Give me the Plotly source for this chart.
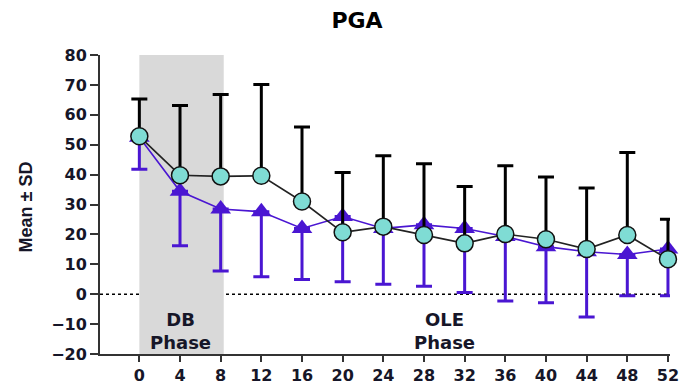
import plotly.graph_objects as go

weeks = [0, 4, 8, 12, 16, 20, 24, 28, 32, 36, 40, 44, 48, 52]
black_mean = [52.8, 39.8, 39.4, 39.6, 31.0, 20.7, 22.6, 19.8, 17.0, 20.1, 18.4, 15.1, 19.8, 11.7]
black_upper = [65.3, 63.1, 66.8, 70.1, 55.9, 40.7, 46.3, 43.6, 36.0, 43.0, 39.2, 35.5, 47.4, 25.1]
purple_mean = [52.5, 34.4, 28.5, 27.6, 22.0, 26.0, 22.0, 23.2, 22.0, 19.3, 15.9, 14.2, 13.3, 15.1]
purple_lower = [41.8, 16.2, 7.8, 5.8, 4.9, 4.2, 3.3, 2.7, 0.6, -2.3, -2.9, -7.6, -0.5, -0.5]
y_ticks = [-20, -10, 0, 10, 20, 30, 40, 50, 60, 70, 80]

PURPLE = "#4a16d2"
CYAN = "#7fdcd4"
TXT = "#161628"
TICKFONT = dict(family="DejaVu Sans", size=16, color=TXT, weight="bold")

fig = go.Figure()

fig.add_trace(go.Scatter(
    x=weeks, y=purple_mean, mode="lines+markers",
    line=dict(color=PURPLE, width=1.6),
    marker=dict(symbol="triangle-up", size=18, color=PURPLE),
    error_y=dict(type="data", symmetric=False,
                 array=[0] * len(weeks),
                 arrayminus=[m - l for m, l in zip(purple_mean, purple_lower)],
                 color=PURPLE, thickness=3, width=8),
    cliponaxis=False, showlegend=False,
))

fig.add_trace(go.Scatter(
    x=weeks, y=black_mean, mode="lines+markers",
    line=dict(color="#222222", width=1.6),
    marker=dict(symbol="circle", size=17, color=CYAN, line=dict(color="#111111", width=1.5)),
    error_y=dict(type="data", symmetric=False,
                 array=[u - m for u, m in zip(black_upper, black_mean)],
                 arrayminus=[0] * len(weeks),
                 color="black", thickness=3, width=8),
    cliponaxis=False, showlegend=False,
))

fig.add_shape(type="rect", xref="x", yref="y", x0=0, x1=8.3, y0=-20, y1=80,
              fillcolor="#d9d9d9", line=dict(width=0), layer="below")
fig.add_shape(type="line", xref="paper", yref="y", x0=0, x1=1, y0=0, y1=0,
              line=dict(color="black", width=1.5, dash="dot"), layer="below")

fig.add_annotation(x=4, y=-12.2, xref="x", yref="y", text="DB<br>Phase", showarrow=False,
                   font=dict(family="DejaVu Sans", size=18, color=TXT, weight="bold"))
fig.add_annotation(x=30, y=-12.2, xref="x", yref="y", text="OLE<br>Phase", showarrow=False,
                   font=dict(family="DejaVu Sans", size=18, color=TXT, weight="bold"))
fig.add_annotation(x=(26 - 100) / 570, y=0.49, xref="paper", yref="paper", text="Mean ± SD",
                   textangle=-90, showarrow=False, xanchor="center",
                   font=dict(family="Liberation Sans", size=18, color=TXT, weight="bold"))

fig.update_layout(
    width=692, height=389,
    margin=dict(l=100, r=22, t=55, b=35, autoexpand=False),
    plot_bgcolor="white", paper_bgcolor="white",
    title=dict(text="PGA", x=357 / 692, xanchor="center", y=1 - 20 / 389, yanchor="middle",
               font=dict(family="DejaVu Sans", size=22, color="black", weight="bold")),
    xaxis=dict(range=[-3.87, 52.2], tickmode="array", tickvals=weeks,
               ticktext=[str(w) for w in weeks], automargin=False,
               showline=True, linecolor="#333333", linewidth=2,
               ticks="outside", ticklen=6, tickwidth=2, tickcolor="#333333",
               ticklabelstandoff=0,
               showgrid=False, zeroline=False, tickfont=TICKFONT),
    yaxis=dict(range=[-20, 80], tickmode="array", tickvals=y_ticks, automargin=False,
               showline=True, linecolor="#333333", linewidth=2,
               ticks="outside", ticklen=8, tickwidth=2, tickcolor="#333333",
               showgrid=False, zeroline=False, tickfont=TICKFONT),
)

fig.write_html("out.html")
